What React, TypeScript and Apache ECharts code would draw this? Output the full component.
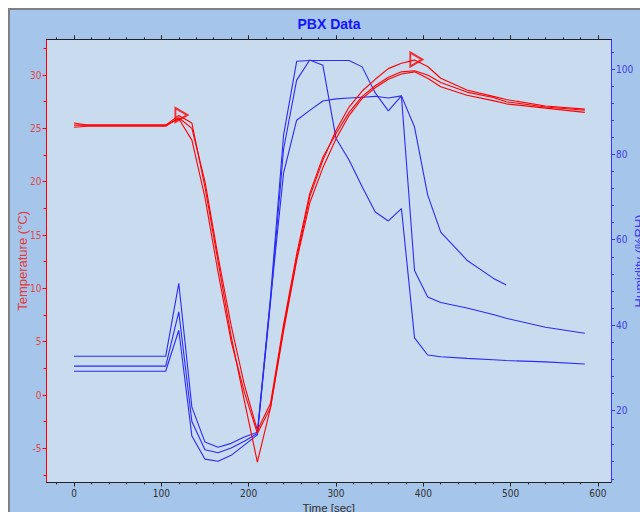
import React, { useEffect, useRef } from "react";
import * as echarts from "echarts";

const times = [0, 15, 105, 120, 135, 150, 165, 180, 195, 210, 225, 240, 255, 270, 285, 300, 315, 330, 345, 360, 375, 390, 405, 420, 450, 480, 495, 540, 585];

const temp1 = [25.5, 25.3, 25.3, 26.2, 25.5, 19.5, 12.5, 5.5, -0.5, -6.3, -1.2, 6.3, 12.8, 18.6, 22.0, 24.8, 27.0, 28.5, 29.6, 30.6, 31.1, 31.4, 30.8, 29.7, 28.6, 28.0, 27.7, 27.1, 26.8];
const temp2 = [25.3, 25.3, 25.3, 25.9, 23.9, 18.5, 11.5, 5.0, 0.3, -3.6, -1.2, 6.0, 12.6, 18.0, 21.3, 24.0, 26.2, 27.8, 28.8, 29.6, 30.1, 30.3, 29.7, 28.9, 28.1, 27.6, 27.3, 26.9, 26.5];
const temp3 = [25.1, 25.2, 25.2, 26.0, 25.0, 20.0, 13.0, 6.5, 1.0, -3.3, -0.8, 6.6, 13.2, 18.9, 22.3, 24.5, 26.5, 28.0, 29.0, 29.8, 30.3, 30.4, 30.0, 29.3, 28.4, 27.9, 27.5, 27.0, 26.7];

const hum1 = [32.7, 32.7, 32.7, 49.8, 20.8, 12.6, 11.4, 12.3, 13.8, 14.9, 46.5, 84.5, 101.8, 102.0, 102.0, 102.0, 102.0, 100.5, 94.4, 90.2, 93.7, 86.4, 70.5, 61.8, 55.2, 51.0, 49.4, null, null];
const hum2 = [30.4, 30.4, 30.4, 43.1, 17.4, 10.8, 10.1, 11.2, 12.8, 14.6, 45.8, 75.6, 88.0, 90.3, 92.5, 93.0, 93.2, 93.4, 93.6, 93.2, 93.7, 52.8, 46.6, 45.3, 44.0, 42.5, 41.6, 39.5, 38.1];
const hum3 = [29.2, 29.2, 29.2, 38.8, 14.0, 8.6, 8.1, 9.5, 11.9, 14.3, 45.2, 81.2, 97.4, 102.1, 100.9, 83.8, 78.7, 72.4, 66.5, 64.4, 67.3, 37.0, 33.0, 32.6, 32.2, 31.9, 31.7, 31.4, 30.9];

const markerTimes = [123, 392];
const markerTemps = [26.25, 31.45];

const xTicks = [0, 100, 200, 300, 400, 500, 600];
const xMinorTicks = [-20, 20, 40, 60, 80, 120, 140, 160, 180, 220, 240, 260, 280, 320, 340, 360, 380, 420, 440, 460, 480, 520, 540, 560, 580];
const tempTicks = [-5, 0, 5, 10, 15, 20, 25, 30];
const tempMinorTicks = [-7.5, -2.5, 2.5, 7.5, 12.5, 17.5, 22.5, 27.5, 32.5];
const humTicks = [20, 40, 60, 80, 100];
const humMinorTicks = [4, 8, 12, 16, 24, 28, 32, 36, 44, 48, 52, 56, 64, 68, 72, 76, 84, 88, 92, 96, 104];

const X_MIN = -31.5, X_MAX = 615;
const T_MIN = -8.2, T_MAX = 33.35;
const H_MIN = 3.13, H_MAX = 106.96;

const FONT = 'Arial, "Liberation Sans", sans-serif';
const LABEL_FONT = '"Liberation Sans Narrow", "DejaVu Sans Condensed", Arial, "Liberation Sans", sans-serif';

const pairs = (vals: (number | null)[]) =>
  times.map((t, i) => [t, vals[i]]).filter((p) => p[1] !== null);

export default function App() {
  const ref = useRef<HTMLDivElement>(null);
  useEffect(() => {
    if (!ref.current) return;
    const chart = echarts.init(ref.current, null, { renderer: "svg" });
    const dark = "#222222";
    const red = "#ff0000";
    const blue = "#2b2bf5";
    const hiddenLabel = { show: false };
    const option: any = {
      animation: false,
      backgroundColor: "#a6c5ea",
      title: {
        text: "PBX Data",
        left: "center",
        top: 2,
        textStyle: { color: "#1414ff", fontSize: 14, fontWeight: "bold", fontFamily: FONT },
      },
      grid: {
        left: 36.5,
        top: 29.3,
        right: 37,
        bottom: 47.5,
        show: true,
        backgroundColor: "#c9dbee",
        borderWidth: 0,
        containLabel: false,
        outerBoundsMode: "none",
      },
      xAxis: [
        {
          type: "value",
          position: "bottom",
          min: X_MIN,
          max: X_MAX,
          name: "Time [sec]",
          nameLocation: "middle",
          nameGap: 19,
          nameMoveOverlap: false,
          nameTextStyle: { color: "#303030", fontSize: 11.5, fontFamily: FONT },
          axisLine: { show: true, onZero: false, lineStyle: { color: dark, width: 1 } },
          axisTick: { show: true, inside: false, length: 4, customValues: xTicks, lineStyle: { color: dark } },
          axisLabel: { show: true, customValues: xTicks, color: "#303030", fontSize: 10, margin: 6, fontFamily: LABEL_FONT },
          splitLine: { show: false },
        },
        {
          type: "value",
          position: "bottom",
          min: X_MIN,
          max: X_MAX,
          axisLine: { show: false, onZero: false },
          axisTick: { show: true, inside: false, length: 2, customValues: xMinorTicks, lineStyle: { color: dark } },
          axisLabel: hiddenLabel,
          splitLine: { show: false },
        },
        {
          type: "value",
          position: "top",
          min: X_MIN,
          max: X_MAX,
          axisLine: { show: true, onZero: false, lineStyle: { color: dark, width: 1 } },
          axisTick: { show: true, inside: false, length: 4, customValues: xTicks, lineStyle: { color: dark } },
          axisLabel: hiddenLabel,
          splitLine: { show: false },
        },
        {
          type: "value",
          position: "top",
          min: X_MIN,
          max: X_MAX,
          axisLine: { show: false, onZero: false },
          axisTick: { show: true, inside: false, length: 2, customValues: xMinorTicks, lineStyle: { color: dark } },
          axisLabel: hiddenLabel,
          splitLine: { show: false },
        },
      ],
      yAxis: [
        {
          type: "value",
          position: "left",
          min: T_MIN,
          max: T_MAX,
          name: "Temperature (°C)",
          nameLocation: "middle",
          nameGap: 18,
          nameMoveOverlap: false,
          nameTextStyle: { color: "#e23c3c", fontSize: 13, fontFamily: FONT },
          axisLine: { show: true, onZero: false, lineStyle: { color: red, width: 1 } },
          axisTick: { show: true, inside: false, length: 4, customValues: tempTicks, lineStyle: { color: red } },
          axisLabel: { show: true, customValues: tempTicks, color: "#e04848", fontSize: 10, margin: 5, fontFamily: LABEL_FONT },
          splitLine: { show: false },
        },
        {
          type: "value",
          position: "right",
          min: H_MIN,
          max: H_MAX,
          name: "Humidity (%RH)",
          nameLocation: "middle",
          nameGap: 22,
          nameMoveOverlap: false,
          nameTextStyle: { color: "#3c3cf0", fontSize: 13, fontFamily: FONT },
          axisLine: { show: true, onZero: false, lineStyle: { color: "#3535ff", width: 1 } },
          axisTick: { show: true, inside: false, length: 4, customValues: humTicks, lineStyle: { color: "#3535ff" } },
          axisLabel: { show: true, customValues: humTicks, color: "#4040e0", fontSize: 10, margin: 5, fontFamily: LABEL_FONT },
          splitLine: { show: false },
        },
        {
          type: "value",
          position: "left",
          min: T_MIN,
          max: T_MAX,
          axisLine: { show: false, onZero: false },
          axisTick: { show: true, inside: false, length: 3, customValues: tempMinorTicks, lineStyle: { color: red } },
          axisLabel: hiddenLabel,
          splitLine: { show: false },
        },
        {
          type: "value",
          position: "right",
          min: H_MIN,
          max: H_MAX,
          axisLine: { show: false, onZero: false },
          axisTick: { show: true, inside: false, length: 3, customValues: humMinorTicks, lineStyle: { color: "#3535ff" } },
          axisLabel: hiddenLabel,
          splitLine: { show: false },
        },
      ],
      series: [
        ...[hum1, hum2, hum3].map((h, i) => ({
          name: "Humidity " + (i + 1),
          type: "line",
          xAxisIndex: 0,
          yAxisIndex: 1,
          data: pairs(h),
          showSymbol: false,
          symbol: "none",
          lineStyle: { color: blue, width: 1.1 },
        })),
        ...[temp1, temp2, temp3].map((t, i) => ({
          name: "Temperature " + (i + 1),
          type: "line",
          xAxisIndex: 0,
          yAxisIndex: 0,
          data: pairs(t),
          showSymbol: false,
          symbol: "none",
          lineStyle: { color: red, width: 1.1 },
        })),
        {
          name: "Markers",
          type: "scatter",
          xAxisIndex: 0,
          yAxisIndex: 0,
          data: markerTimes.map((t, i) => [t, markerTemps[i]]),
          symbol: "triangle",
          symbolRotate: -90,
          symbolSize: [14, 12],
          itemStyle: { color: "rgba(0,0,0,0)", borderColor: red, borderWidth: 2 },
        },
      ],
    };
    chart.setOption(option);
    return () => chart.dispose();
  }, []);

  return (
    <div
      style={{
        position: "fixed",
        left: 8,
        top: 8,
        width: 632,
        height: 504,
        borderTop: "2px solid #808080",
        borderLeft: "2px solid #808080",
        boxSizing: "border-box",
        overflow: "hidden",
        background: "#a6c5ea",
      }}
    >
      <div ref={ref} style={{ width: 638, height: 520 }} />
    </div>
  );
}
